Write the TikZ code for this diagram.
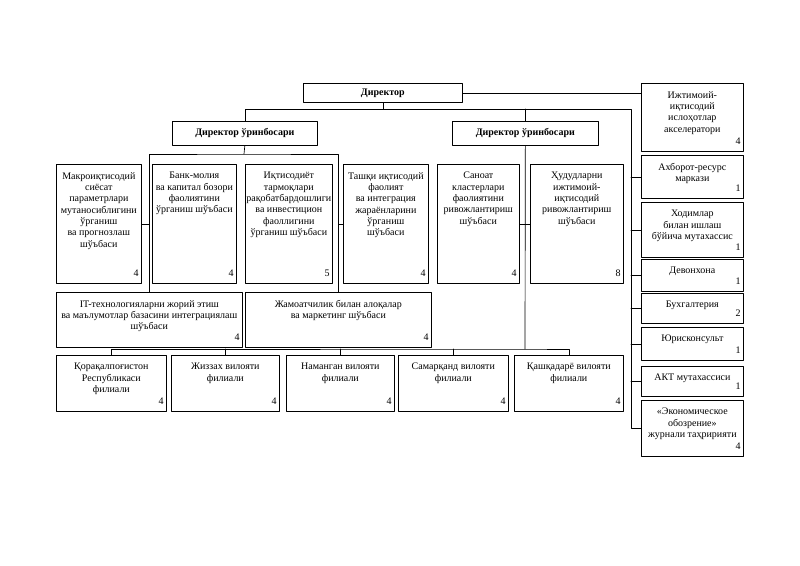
\documentclass[tikz,border=0pt]{standalone}
\usepackage{fontspec}
\setmainfont{Liberation Serif}
\begin{document}
\begin{tikzpicture}[x=.75pt,y=-.75pt, line join = round, line cap = round,
		unit/.style={draw, line width=.5pt, inner sep=0pt, anchor=north west},
		head/.style={font=\bfseries\fontsize{7.5}{8.5}\selectfont},
		txt/.style={align=center, anchor=north, inner sep=3pt, yshift=-3pt, font=\fontsize{7.5}{8.5}\selectfont},
		num/.style={anchor=south east, inner sep=2pt, yshift=3pt, font=\fontsize{7.5}{8.5}\selectfont}]
	\useasboundingbox (0,0) rectangle (800,565);
	% rahbariyat
	\foreach \n/\xa/\ya/\xb/\yb/\t in {dir/303/83/462/102/Директор, depL/172/121/317/145/Директор ўринбосари, depR/452/121/598/145/Директор ўринбосари}
		\node[unit, head, minimum width=(\xb-\xa)*.75pt, minimum height=(\yb-\ya)*.75pt] (\n) at (\xa,\ya) {\t};
	% bo'limlar va filiallar
	\foreach \n/\xa/\ya/\xb/\yb/\t/\k in {
		makro/56/164/141/283/{Макроиқтисодий\\сиёсат\\параметрлари\\мутаносиблигини\\ўрганиш\\ва прогнозлаш\\шўъбаси}/4,
		bank/152/164/236/283/{Банк-молия\\ва капитал бозори\\фаолиятини\\ўрганиш шўъбаси}/4,
		iqt/245/164/332/283/{Иқтисодиёт\\тармоқлари\\рақобатбардошлиги\\ва инвестицион\\фаоллигини\\ўрганиш шўъбаси}/5,
		tashqi/343/164/428/283/{Ташқи иқтисодий\\фаолият\\ва интеграция\\жараёнларини\\ўрганиш\\шўъбаси}/4,
		sanoat/437/164/519/283/{Саноат\\кластерлари\\фаолиятини\\ривожлантириш\\шўъбаси}/4,
		hudud/530/164/623/283/{Ҳудудларни\\ижтимоий-\\иқтисодий\\ривожлантириш\\шўъбаси}/8,
		it/56/292/242/347/{IT-технологияларни жорий этиш\\ва маълумотлар базасини интеграциялаш\\шўъбаси}/4,
		jam/245/292/431/347/{Жамоатчилик билан алоқалар\\ва маркетинг шўъбаси}/4,
		qq/56/355/166/411/{Қорақалпоғистон\\Республикаси\\филиали}/4,
		jz/171/355/279/411/{Жиззах вилояти\\филиали}/4,
		nm/286/355/394/411/{Наманган вилояти\\филиали}/4,
		sm/398/355/508/411/{Самарқанд вилояти\\филиали}/4,
		qd/514/355/623/411/{Қашқадарё вилояти\\филиали}/4,
		r1/641/83/743/151/{Ижтимоий-\\иқтисодий\\ислоҳотлар\\акселератори}/4,
		r2/641/155/743/198/{Ахборот-ресурс\\маркази}/1,
		r3/641/202/743/257/{Ходимлар\\билан ишлаш\\бўйича мутахассис}/1,
		r4/641/259/743/291/{Девонхона}/1,
		r5/641/293/743/323/{Бухгалтерия}/2,
		r6/641/327/743/360/{Юрисконсульт}/1,
		r7/641/366/743/396/{АКТ мутахассиси}/1,
		r8/641/400/743/456/{«Экономическое\\обозрение»\\журнали таҳририяти}/4}{
		\node[unit, minimum width=(\xb-\xa)*.75pt, minimum height=(\yb-\ya)*.75pt] (\n) at (\xa,\ya) {};
		\node[txt] at (\n.north) {\t};
		\node[num] at (\n.south east) {\k};
	}
	% boglanishlar
	\coordinate (rline) at (631,109);
	\coordinate (lbus) at (244,154);
	\coordinate (bbus) at (525,349);
	\draw[line width=.5pt] (dir.east) -- (dir.east -| r1.west);
	\draw[line width=.5pt] (dir.south) -- (dir.south |- rline);
	\draw[line width=.5pt] (depL.north) |- (rline) -- (rline |- r8.west) -- (r8.west);
	\draw[line width=.5pt] (depR.north) -- (depR.north |- rline);
	\foreach \r in {r2,r3,r4,r5,r6,r7}\draw[line width=.5pt] (rline |- \r.west) -- (\r.west);
	\draw[line width=.5pt] (depL.south) -- (lbus);
	\draw[line width=.5pt] (it.north) |- (lbus) -| (jam.north);
	\draw[line width=.5pt] (makro.east) -- (makro.east -| it.north) (tashqi.west) -- (tashqi.west -| jam.north);
	\draw[line width=.5pt] (depR.south) -- (bbus);
	\draw[line width=.5pt] (qq.north) |- (bbus) -| (qd.north);
	\foreach \f in {jz,nm,sm}\draw[line width=.5pt] (\f.north) -- (\f.north |- bbus);
	\draw[line width=.5pt] (sanoat.east) -- (hudud.west);
\end{tikzpicture}
\end{document}
